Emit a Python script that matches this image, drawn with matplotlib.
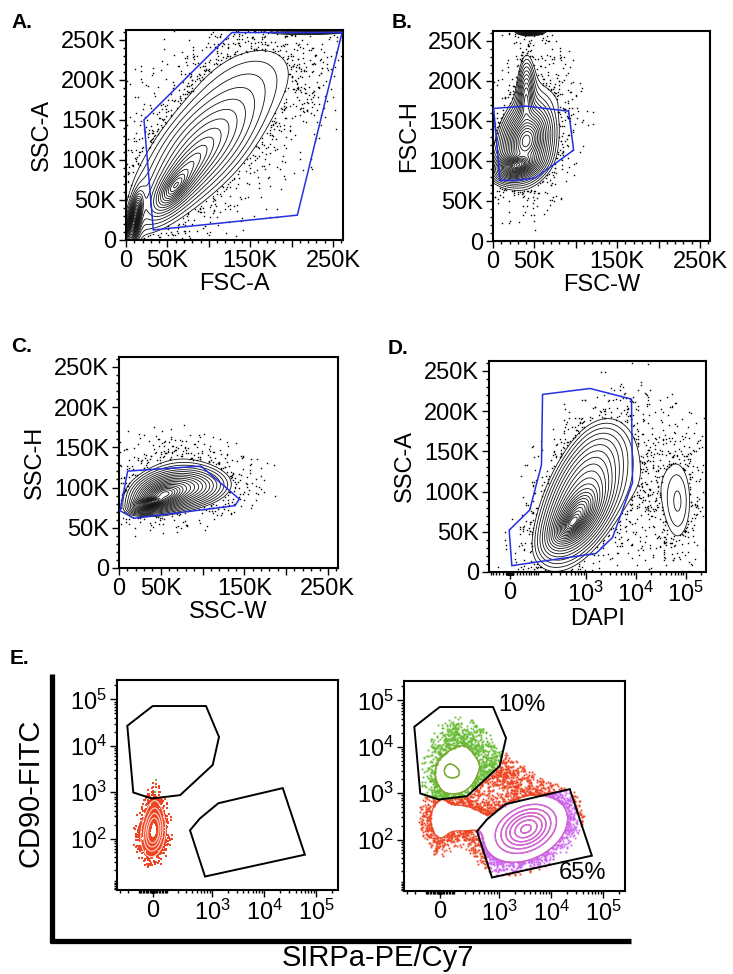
import numpy as np
import matplotlib
matplotlib.use('Agg')
import matplotlib.pyplot as plt
from matplotlib.path import Path
from matplotlib.patches import Polygon
from matplotlib.lines import Line2D
from matplotlib.ticker import FixedLocator, FixedFormatter, NullFormatter

plt.rcParams['font.family'] = ['Liberation Sans', 'DejaVu Sans']
plt.rcParams['mathtext.fontset'] = 'custom'
plt.rcParams['mathtext.rm'] = 'Liberation Sans'
plt.rcParams['mathtext.it'] = 'Liberation Sans:italic'

# ---------------------------------------------------------------- data
# populations: centre x, centre y (data units),
# spread x, spread y (K on linear axes, decades on log-like axes),
# correlation, relative peak height, tail shape (large = light tails)
A_px = [10, 60, 75, 95, 225, 150]
A_py = [25, 68, 90, 120, 262, 205]
A_sx = [2.5, 9, 20, 42, 20, 50]
A_sy = [8, 11, 24, 45, 2, 38]
A_rho = [0.6, 0.7, 0.8, 0.62, 0.0, 0.3]
A_pk = [1.0, 0.25, 0.06, 0.02, 0.05, 0.0026]
A_nu = [3, 3, 3, 3, 3, 100]
A_gate_x = [21.7, 128, 261, 207, 33]
A_gate_y = [150, 259, 259, 31, 12.5]

B_px = [30, 40, 40, 45, 55, 95]
B_py = [95, 125, 175, 262, 160, 165]
B_sx = [7, 10, 5, 5, 20, 20]
B_sy = [5, 15, 25, 1.5, 50, 18]
B_rho = [0.3, 0.2, 0.05, 0.0, 0.2, -0.8]
B_pk = [1.0, 0.3, 0.04, 0.3, 0.0025, 0.0015]
B_nu = [3, 3, 3, 3, 100, 100]
B_gate_x = [0.8, 39.8, 91.4, 97.4, 51, 27.8, 8.5]
B_gate_y = [165.5, 168.4, 162, 113.5, 78.6, 75.7, 75.7]

C_px = [40, 55, 75, 75]
C_py = [82, 92, 100, 130]
C_sx = [6, 12, 26, 38]
C_sy = [3, 7, 12, 25]
C_rho = [0.5, 0.3, 0.1, -0.2]
C_pk = [1.0, 0.3, 0.05, 0.003]
C_nu = [3, 3, 3, 100]
C_gate_x = [10.4, 98, 144, 138.8, 18, 1.2]
C_gate_y = [120.4, 126.6, 85.7, 77.4, 61.7, 71.2]

D_px = [550, 700, 900, 71000, 15000, 2500]
D_py = [62, 75, 98, 85, 110, 160]
D_sx = [0.12, 0.18, 0.38, 0.26, 0.55, 0.4]
D_sy = [8, 14, 38, 48, 45, 20]
D_rho = [0.6, 0.55, 0.5, 0.0, 0.0, 0.0]
D_pk = [1.0, 0.35, 0.05, 0.006, 0.0025, 0.0015]
D_nu = [3, 3, 6, 3, 100, 100]
D_gate_x = [5.5, -1.8, 63, 122, 129, 1213, 8200, 8600, 3430, 1590]
D_gate_y = [7.9, 52, 77, 133, 220.6, 228, 214.8, 111, 43, 23]

E1_px = [0, 10]
E1_py = [130, 300]
E1_sx = [0.13, 0.1]
E1_sy = [0.28, 0.3]
E1_rho = [0.15, 0.0]
E1_pk = [1.0, 0.3]
E1_nu = [100, 100]
E1_green_x = [20, 15]
E1_green_y = [1825, 1000]

E2_px = [120, 50, 185, 3300, 159, 0, 1100]
E2_py = [2620, 3300, 12600, 170, 281, 250, 2800]
E2_sx = [0.25, 0.12, 0.3, 0.32, 0.34, 0.13, 0.35]
E2_sy = [0.28, 0.18, 0.3, 0.29, 0.22, 0.34, 0.28]
E2_rho = [0.0, 0.2, -0.2, 0.3, 0.0, 0.0, -0.5]
E2_pk = [0.095, 0.055, 0.02, 0.55, 0.06, 0.045, 0.022]
E2_nu = [5, 5, 100, 12, 12, 12, 100]

E_gate1_x = [-2, 767, 1368, 1034, 225, -8.6, -147, -208]
E_gate1_y = [72000, 72000, 15500, 3870, 864, 732, 988, 27000]
E_gate2_x = [1327, 22700, 60000, 733, 368, 585]
E_gate2_y = [578, 1226, 44.5, 13.6, 151, 273]
E_gate_pct = ['10%', '65%']

lin_ticks = [0, 50, 100, 150, 200, 250]
lin_xlabels = ['0', '50K', '', '150K', '', '250K']
lin_ylabels = ['0', '50K', '100K', '150K', '200K', '250K']
log_xticks = [0, 1e3, 1e4, 1e5]
log_xlabels = ['0', r'$\mathregular{10^3}$', r'$\mathregular{10^4}$', r'$\mathregular{10^5}$']
log_yticks = [1e2, 1e3, 1e4, 1e5]
log_ylabels = [r'$\mathregular{10^2}$', r'$\mathregular{10^3}$', r'$\mathregular{10^4}$', r'$\mathregular{10^5}$']

# ---------------------------------------------------------------- helpers
W, H = 733, 974
fig = plt.figure(figsize=(W / 100, H / 100), dpi=100)
LN10 = np.log(10)
FS = 17
BLUE = '#2430E0'
RED = '#EE4422'
GREEN = '#66BB33'
MAG = '#CC66EE'


def ax_px(l, t, r, b):
    return fig.add_axes([l / W, 1 - b / H, (r - l) / W, (b - t) / H])


def ident(x):
    return np.asarray(x, dtype=float)


def asinh_f(c):
    return lambda x: np.arcsinh(np.asarray(x, dtype=float) / c) / LN10


def asinh_i(c):
    return lambda u: c * np.sinh(np.asarray(u, dtype=float) * LN10)


def mixture(U, V, fx, fy, px, py, sx, sy, rho, pk, nu):
    Z = np.zeros_like(U)
    for a, b, s1, s2, r, p, n in zip(fx(px), fy(py), sx, sy, rho, pk, nu):
        du = (U - a) / s1
        dv = (V - b) / s2
        q = (du * du - 2 * r * du * dv + dv * dv) / (1 - r * r)
        if n >= 50:
            Z += p * np.exp(-0.5 * q)
        else:
            Z += p * (1 + q / n) ** (-(n + 2) / 2)
    return Z


def stipple(n, salt):
    """deterministic hash-based stipple coordinates in [0,1)^3"""
    out = []
    idx = np.arange(n, dtype=np.uint64)
    for j in range(3):
        x = (idx + np.uint64(salt * 7919 + j * 104729 + 1)) * np.uint64(0x9E3779B97F4A7C15)
        x ^= x >> np.uint64(30)
        x *= np.uint64(0xBF58476D1CE4E5B9)
        x ^= x >> np.uint64(27)
        x *= np.uint64(0x94D049BB133111EB)
        x ^= x >> np.uint64(31)
        out.append((x >> np.uint64(11)).astype(np.float64) / 2.0 ** 53)
    return np.column_stack(out)


class Panel:
    def __init__(self, ax, fx, fxi, fy, fyi, xlim, ylim, pop):
        self.ax, self.fx, self.fxi, self.fy, self.fyi = ax, fx, fxi, fy, fyi
        self.xlim, self.ylim, self.pop = xlim, ylim, pop
        self.u = (float(fx(xlim[0])), float(fx(xlim[1])))
        self.v = (float(fy(ylim[0])), float(fy(ylim[1])))

    def dens(self, U, V):
        return mixture(U, V, self.fx, self.fy, *self.pop)

    def grid(self, n=420):
        u = np.linspace(*self.u, n)
        v = np.linspace(*self.v, n)
        U, V = np.meshgrid(u, v)
        return self.fxi(U), self.fyi(V), self.dens(U, V)

    def dots(self, n, lo, hi, k, salt):
        P = stipple(n, salt)
        U = self.u[0] + P[:, 0] * (self.u[1] - self.u[0])
        V = self.v[0] + P[:, 1] * (self.v[1] - self.v[0])
        d = self.dens(U, V)
        keep = (d > lo) & (d < hi) & (P[:, 2] < k * d / hi)
        return U[keep], V[keep]


def style_box(ax, lw=1.5):
    for s in ax.spines.values():
        s.set_linewidth(lw)
        s.set_color('black')
    ax.tick_params(which='both', direction='out', top=False, right=False,
                   labelsize=FS, width=1, colors='black', pad=2)
    ax.tick_params(which='major', length=5)
    ax.tick_params(which='minor', length=2.5)


def lin_axes(ax, xlabel, ylabel):
    ax.set_xlim(0, 262.144)
    ax.set_ylim(0, 262.144)
    ax.xaxis.set_major_locator(FixedLocator(lin_ticks))
    ax.xaxis.set_major_formatter(FixedFormatter(lin_xlabels))
    ax.yaxis.set_major_locator(FixedLocator(lin_ticks))
    ax.yaxis.set_major_formatter(FixedFormatter(lin_ylabels))
    ax.xaxis.set_minor_locator(FixedLocator(np.arange(0, 262, 10)))
    ax.yaxis.set_minor_locator(FixedLocator(np.arange(0, 262, 10)))
    ax.xaxis.set_minor_formatter(NullFormatter())
    ax.yaxis.set_minor_formatter(NullFormatter())
    style_box(ax)
    ax.set_xlabel(xlabel, fontsize=FS, labelpad=1)
    ax.set_ylabel(ylabel, fontsize=FS, labelpad=6)


def log_minor(lo, hi):
    vals = []
    for e in range(0, 6):
        for m in range(1, 10):
            v = m * 10 ** e
            if lo < v < hi:
                vals.append(v)
            if lo < -v < hi:
                vals.append(-v)
    return sorted(vals)


def gate_patch(ax, gx, gy, color, lw):
    p = Polygon(np.column_stack([gx, gy]), closed=True, fill=False,
                edgecolor=color, linewidth=lw, zorder=5)
    ax.add_patch(p)
    return p


def linear_panel(rect, pop, levels, gx, gy, xlabel, ylabel, ndots, dlo, dk, salt):
    ax = ax_px(*rect)
    pn = Panel(ax, ident, ident, ident, ident, (0, 262.144), (0, 262.144), pop)
    X, Y, Z = pn.grid()
    ax.contour(X, Y, Z, levels=levels, colors='#111111', linewidths=0.6)
    du, dv = pn.dots(ndots, dlo, levels[0], dk, salt)
    ax.plot(du, dv, 's', color='black', ms=1.0, mew=0)
    gate_patch(ax, gx, gy, BLUE, 1.1)
    lin_axes(ax, xlabel, ylabel)
    return ax


# ---------------------------------------------------------------- A
linear_panel((126, 30, 343, 240), (A_px, A_py, A_sx, A_sy, A_rho, A_pk, A_nu),
             np.geomspace(0.003, 0.9, 20), A_gate_x, A_gate_y, 'FSC-A', 'SSC-A',
             40000, 0.0001, 0.1, 1)
# ---------------------------------------------------------------- B
linear_panel((493, 31, 710, 241), (B_px, B_py, B_sx, B_sy, B_rho, B_pk, B_nu),
             np.geomspace(0.004, 0.95, 22), B_gate_x, B_gate_y, 'FSC-W', 'FSC-H',
             40000, 0.0002, 0.12, 2)
# ---------------------------------------------------------------- C
linear_panel((119, 357, 338, 568), (C_px, C_py, C_sx, C_sy, C_rho, C_pk, C_nu),
             np.geomspace(0.005, 0.95, 24), C_gate_x, C_gate_y, 'SSC-W', 'SSC-H',
             40000, 0.0003, 0.12, 3)

# ---------------------------------------------------------------- D
axD = ax_px(489, 361, 706, 572)
fD, iD = asinh_f(60), asinh_i(60)
axD.set_xscale('function', functions=(fD, iD))
pD = Panel(axD, fD, iD, ident, ident, (-67, 255000), (0, 262.144),
           (D_px, D_py, D_sx, D_sy, D_rho, D_pk, D_nu))
X, Y, Z = pD.grid()
levD = np.geomspace(0.004, 0.95, 22)
axD.contour(X, Y, Z, levels=levD, colors='#111111', linewidths=0.6)
du, dv = pD.dots(40000, 0.0002, levD[0], 0.1, 4)
axD.plot(iD(du), dv, 's', color='black', ms=1.0, mew=0)
gate_patch(axD, D_gate_x, D_gate_y, BLUE, 1.1)
axD.set_xlim(-67, 255000)
axD.set_ylim(0, 262.144)
axD.xaxis.set_major_locator(FixedLocator(log_xticks))
axD.xaxis.set_major_formatter(FixedFormatter(log_xlabels))
axD.xaxis.set_minor_locator(FixedLocator(log_minor(-67, 255000)))
axD.xaxis.set_minor_formatter(NullFormatter())
axD.yaxis.set_major_locator(FixedLocator(lin_ticks))
axD.yaxis.set_major_formatter(FixedFormatter(lin_ylabels))
axD.yaxis.set_minor_locator(FixedLocator(np.arange(0, 262, 10)))
axD.yaxis.set_minor_formatter(NullFormatter())
style_box(axD)
axD.set_xlabel('DAPI', fontsize=FS, labelpad=1)
axD.set_ylabel('SSC-A', fontsize=FS, labelpad=6)

# ---------------------------------------------------------------- E
fEx, iEx = asinh_f(150), asinh_i(150)
fEy, iEy = asinh_f(10), asinh_i(10)
EXL = (-350, 258000)
EYL = (4.6, 262144)


def e_axes(rect):
    ax = ax_px(*rect)
    ax.set_xscale('function', functions=(fEx, iEx))
    ax.set_yscale('function', functions=(fEy, iEy))
    return ax


def e_finish(ax):
    ax.set_xlim(*EXL)
    ax.set_ylim(*EYL)
    ax.xaxis.set_major_locator(FixedLocator(log_xticks))
    ax.xaxis.set_major_formatter(FixedFormatter(log_xlabels))
    ax.xaxis.set_minor_locator(FixedLocator(log_minor(*EXL)))
    ax.xaxis.set_minor_formatter(NullFormatter())
    ax.yaxis.set_major_locator(FixedLocator(log_yticks))
    ax.yaxis.set_major_formatter(FixedFormatter(log_ylabels))
    ax.yaxis.set_minor_locator(FixedLocator(log_minor(*EYL)))
    ax.yaxis.set_minor_formatter(NullFormatter())
    style_box(ax)


def gate_path(gx, gy):
    return Path(np.column_stack([fEx(gx), fEy(gy)]))


# left E
axE1 = e_axes((117, 680, 338, 890))
p1 = Panel(axE1, fEx, iEx, fEy, iEy, EXL, EYL,
           (E1_px, E1_py, E1_sx, E1_sy, E1_rho, E1_pk, E1_nu))
du, dv = p1.dots(120000, 0.015, 1.0, 1.0, 5)
axE1.plot(iEx(du), iEy(dv), 's', color=RED, ms=1.5, mew=0)
X, Y, Z = p1.grid()
axE1.contour(X, Y, Z, levels=[0.2, 0.4, 0.6, 0.8], colors='#FFD8D0', linewidths=0.8)
axE1.plot(E1_green_x, E1_green_y, 's', color=GREEN, ms=1.6, mew=0)
gate_patch(axE1, E_gate1_x, E_gate1_y, 'black', 1.4)
gate_patch(axE1, E_gate2_x, E_gate2_y, 'black', 1.4)
e_finish(axE1)

# right E
axE2 = e_axes((404, 681, 625, 891))
p2 = Panel(axE2, fEx, iEx, fEy, iEy, EXL, EYL,
           (E2_px, E2_py, E2_sx, E2_sy, E2_rho, E2_pk, E2_nu))
levE = [0.03, 0.1, 0.17, 0.25, 0.33, 0.43, 0.52]
du, dv = p2.dots(90000, 0.004, levE[0], 0.3, 6)
pts = np.column_stack([du, dv])
in1 = gate_path(E_gate1_x, E_gate1_y).contains_points(pts)
in2 = gate_path(E_gate2_x, E_gate2_y).contains_points(pts)
cols = np.where(in1, 'g', np.where(in2, 'm', 'r'))
for key, c in (('r', RED), ('g', GREEN), ('m', MAG)):
    sel = cols == key
    axE2.plot(iEx(du[sel]), iEy(dv[sel]), 's', color=c, ms=1.3, mew=0)
X, Y, Z = p2.grid()
g1 = gate_patch(axE2, E_gate1_x, E_gate1_y, 'black', 1.4)
g2 = gate_patch(axE2, E_gate2_x, E_gate2_y, 'black', 1.4)
axE2.contour(X, Y, Z, levels=levE, colors=RED, linewidths=0.9)
cg = axE2.contour(X, Y, Z, levels=levE, colors=GREEN, linewidths=1.0)
cg.set_clip_path(g1)
cm = axE2.contour(X, Y, Z, levels=levE, colors=MAG, linewidths=1.0)
cm.set_clip_path(g2)
e_finish(axE2)
fig.text(522 / W, 1 - 705 / H, E_gate_pct[0], fontsize=FS, ha='center', va='center')
fig.text(582 / W, 1 - 873 / H, E_gate_pct[1], fontsize=FS, ha='center', va='center')

# big E axes
fig.add_artist(Line2D([52 / W, 52 / W], [1 - 674 / H, 1 - 943 / H], color='black', lw=3.8,
                      solid_capstyle='butt'))
fig.add_artist(Line2D([50 / W, 631 / W], [1 - 941 / H, 1 - 941 / H], color='black', lw=3.8,
                      solid_capstyle='butt'))
fig.text(30 / W, 1 - 793 / H, 'CD90-FITC', fontsize=21, rotation=90, ha='center', va='center')
fig.text(378 / W, 1 - 958 / H, 'SIRPa-PE/Cy7', fontsize=21, ha='center', va='center')

# panel letters
for s, x, y in (('A.', 11, 22), ('B.', 392, 22), ('C.', 11, 347), ('D.', 388, 348), ('E.', 10, 658)):
    fig.text(x / W, 1 - y / H, s, fontsize=15, fontweight='bold', ha='left', va='center')

fig.savefig('out.png', dpi=100)
